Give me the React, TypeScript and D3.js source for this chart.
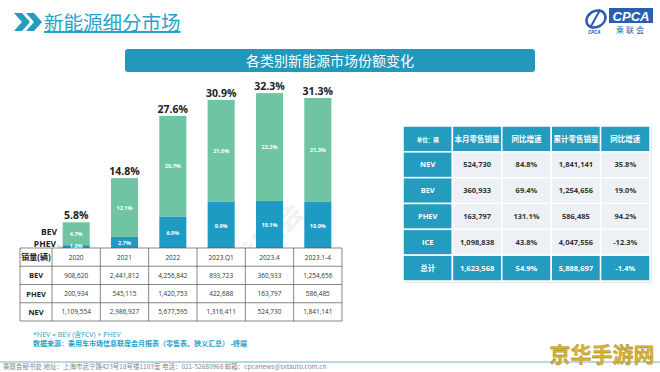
import React from 'react';
import * as d3 from 'd3';

// share of the passenger car market (%)
const years = ['2020', '2021', '2022', '2023.Q1', '2023.4', '2023.1-4'];
const phevShare = [1.0, 2.7, 6.9, 9.9, 10.1, 10.0];
const bevShare = [4.7, 12.1, 20.7, 21.0, 22.2, 21.3];
const nevShare = [5.8, 14.8, 27.6, 30.9, 32.3, 31.3];

// volumes table under the bars
const salesRows = ['BEV', 'PHEV', 'NEV'];
const bevSales = ['908,620', '2,441,812', '4,256,842', '893,723', '360,933', '1,254,656'];
const phevSales = ['200,934', '545,115', '1,420,753', '422,688', '163,797', '586,485'];
const nevSales = ['1,109,554', '2,986,927', '5,677,595', '1,316,411', '524,730', '1,841,141'];

// retail table on the right
const retailHeader = ['单位：辆', '本月零售销量', '同比增速', '累计零售销量', '同比增速'];
const retailRows = ['NEV', 'BEV', 'PHEV', 'ICE', '总计'];
const monthSales = ['524,730', '360,933', '163,797', '1,098,838', '1,623,568'];
const monthYoy = ['84.8%', '69.4%', '131.1%', '43.8%', '54.9%'];
const ytdSales = ['1,841,141', '1,254,656', '586,485', '4,047,556', '5,888,697'];
const ytdYoy = ['35.8%', '19.0%', '94.2%', '-12.3%', '-1.4%'];

const TEAL = '#239cbf';
const BEV_C = '#6fc5a3';
const PHEV_C = '#1d9bc2';
const CJK = '"Open Sans", "Noto Sans CJK SC", sans-serif';

export default function App() {
  const width = 660, height = 372;

  const x = d3.scaleBand<string>().domain(years).range([52, 342]).paddingInner(0.44).paddingOuter(0.22);
  const y = d3.scaleLinear().domain([0, 35]).range([250, 80]);

  const table = years.map((yr, i) => ({ year: yr, PHEV: phevShare[i], BEV: bevShare[i] }));
  const series = d3.stack<any>().keys(['PHEV', 'BEV'])(table);
  const colors: Record<string, string> = { PHEV: PHEV_C, BEV: BEV_C };

  // left table
  const colX = d3.scaleBand<string>().domain(years).range([52, 342]);
  const rowY = d3.scaleBand<string>().domain(['head', ...salesRows]).range([248, 321]);
  const salesData: Record<string, string[]> = { BEV: bevSales, PHEV: phevSales, NEV: nevSales };

  // right table
  const rc = d3.scaleBand<string>().domain(retailHeader.map((_, i) => String(i))).range([403, 650]);
  const rr = d3.scaleBand<string>().domain(['head', ...retailRows]).range([126, 281]);
  const retailCols = [monthSales, monthYoy, ytdSales, ytdYoy];

  return (
    <div style={{ position: 'fixed', left: 0, top: 0 }}>
      <svg width={width} height={height} style={{ display: 'block', background: '#fff' }} fontFamily={CJK}>
        {/* heading */}
        <polygon points="14,13 22,13 30,22 22,31 14,31 22,22" fill={TEAL} />
        <polygon points="26,13 34,13 42,22 34,31 26,31 34,22" fill={TEAL} />
        <text x={44} y={30} fontSize={19.5} fill="#1fa3c8" textDecoration="underline"
          fontFamily='"Noto Sans CJK SC", sans-serif'>新能源细分市场</text>

        {/* logo */}
        <g>
          <ellipse cx={596} cy={19} rx={10} ry={8} fill="none" stroke="#2a5caa" strokeWidth={2.5} transform="rotate(-30 596 19)" />
          <path d="M590,28 L600,10" stroke="#2a5caa" strokeWidth={2} />
          <text x={588} y={34} fontSize={5} fill="#2a5caa" fontStyle="italic" fontWeight="bold">CPCA</text>
          <rect x={609} y={8} width={44} height={15} fill="#2b5fae" />
          <text x={631} y={20.5} fontSize={13} fill="#fff" fontStyle="italic" fontWeight="bold"
            textAnchor="middle" fontFamily="Arial, sans-serif">CPCA</text>
          <text x={631} y={33} fontSize={8} fill="#2b5fae" textAnchor="middle"
            fontFamily='"Noto Sans CJK SC", sans-serif' letterSpacing={2}>乘联会</text>
        </g>

        {/* banner */}
        <rect x={125} y={49} width={410} height={23} rx={3} fill="#2298ba" />
        <text x={330} y={65.5} fontSize={14} fill="#fff" textAnchor="middle"
          fontFamily='"Noto Sans CJK SC", sans-serif'>各类别新能源市场份额变化</text>

        {/* watermarks */}
        <text x={250} y={270} fontSize={28} fill="#000" opacity={0.05} fontWeight="bold"
          transform="rotate(-45 250 270)" textAnchor="middle">CPCA乘联会</text>
        <text x={520} y={200} fontSize={30} fill="#000" opacity={0.05} fontWeight="bold"
          transform="rotate(-40 520 200)" textAnchor="middle">CPCA乘联会</text>

        {/* stacked bars */}
        {series.map(s => (
          <g key={s.key}>
            {s.map((d, i) => (
              <rect key={i} x={x(years[i])} y={y(d[1])} width={x.bandwidth()} height={y(d[0]) - y(d[1])}
                fill={colors[s.key]} />
            ))}
          </g>
        ))}
        {nevShare.map((v, i) => (
          <text key={i} x={(x(years[i]) as number) + x.bandwidth() / 2} y={y(v) - 3}
            fontSize={10.5} fontWeight="bold" fill="#222" textAnchor="middle">{v.toFixed(1)}%</text>
        ))}
        <text x={57} y={235} fontSize={8.5} fontWeight="bold" fill="#222" textAnchor="end">BEV</text>
        <text x={56} y={247} fontSize={8.5} fontWeight="bold" fill="#222" textAnchor="end">PHEV</text>
        <line x1={57} y1={245} x2={63} y2={248.5} stroke="#999" strokeWidth={0.7} />

        {/* volumes table */}
        <rect x={20} y={248} width={322} height={73} fill="#fff" />
        {['head', ...salesRows].map(r => (
          <g key={r}>
            <text x={36} y={(rowY(r) as number) + rowY.bandwidth() / 2 + 3} fontSize={r === 'head' ? 8 : 7.5}
              fontWeight="bold" fill="#222" textAnchor="middle">{r === 'head' ? '销量(辆)' : r}</text>
            {years.map((yr, i) => (
              <text key={yr} x={(colX(yr) as number) + colX.bandwidth() / 2}
                y={(rowY(r) as number) + rowY.bandwidth() / 2 + 2.5} fontSize={6.5}
                fill="#333" textAnchor="middle">{r === 'head' ? yr : salesData[r][i]}</text>
            ))}
          </g>
        ))}
        {['head', ...salesRows].map(r => (
          <line key={r} x1={20} x2={342} y1={(rowY(r) as number) + rowY.bandwidth()} y2={(rowY(r) as number) + rowY.bandwidth()}
            stroke="#555" strokeWidth={0.7} />
        ))}
        <line x1={20} x2={342} y1={248} y2={248} stroke="#555" strokeWidth={0.7} />
        <line x1={20} x2={20} y1={248} y2={321} stroke="#555" strokeWidth={0.7} />
        {years.map(yr => (
          <line key={yr} x1={(colX(yr) as number) + colX.bandwidth()} x2={(colX(yr) as number) + colX.bandwidth()}
            y1={248} y2={321} stroke="#555" strokeWidth={0.7} />
        ))}
        <line x1={52} x2={52} y1={248} y2={321} stroke="#555" strokeWidth={0.7} />

        {/* segment labels drawn last so the thin 2020 PHEV one stays visible */}
        {series.map(s => (
          <g key={s.key}>
            {s.map((d, i) => {
              const mid = (y(d[0]) + y(d[1])) / 2 + 2;
              return (
                <text key={i} x={(x(years[i]) as number) + x.bandwidth() / 2} y={Math.min(mid, 247.5)}
                  fontSize={5.5} fill="#fff" textAnchor="middle" fontWeight="bold">
                  {(d[1] - d[0]).toFixed(1)}%
                </text>
              );
            })}
          </g>
        ))}

        {/* notes */}
        <text x={33} y={337} fontSize={7} fill="#1fa3c8">*NEV = BEV (含FCV) + PHEV</text>
        <text x={33} y={346} fontSize={7} fill="#1fa3c8" fontWeight="bold">数据来源：乘用车市场信息联席会月报表（零售表、狭义汇总） -终端</text>

        {/* retail table */}
        <rect x={404} y={127} width={248} height={156} fill="#e4e7ec" />
        {['head', ...retailRows].map((r, ri) => (
          <g key={r}>
            {retailHeader.map((_, ci) => {
              const head = r === 'head' || r === '总计' || ci === 0;
              const cx = (rc(String(ci)) as number);
              const cy = rr(r) as number;
              let label = '';
              if (r === 'head') label = retailHeader[ci];
              else if (ci === 0) label = r;
              else label = retailCols[ci - 1][ri - 1];
              return (
                <g key={ci}>
                  <rect x={cx} y={cy} width={rc.bandwidth()} height={rr.bandwidth()}
                    fill={head ? TEAL : '#edf0f5'} stroke="#fff" strokeWidth={1.5} />
                  <text x={cx + rc.bandwidth() / 2} y={cy + rr.bandwidth() / 2 + 2.7}
                    fontSize={r === 'head' ? (ci === 0 ? 5.5 : 7.5) : 7.5} fontWeight="bold"
                    fill={head ? '#fff' : '#333'} textAnchor="middle">{label}</text>
                </g>
              );
            })}
          </g>
        ))}

        {/* footer */}
        <line x1={0} x2={660} y1={362} y2={362} stroke="#6fb3c8" strokeWidth={1} />
        <text x={3} y={369} fontSize={6.5} fill="#888"
          fontFamily='"Noto Sans CJK SC", sans-serif'>乘联会秘书处   地址：上海市武宁路423号18号楼1103室   电话：021-52680968   邮箱：cpcanews@sxtauto.com.cn</text>
        <text x={602} y={362} fontSize={21} fontWeight="bold" fill="#d8b42c" textAnchor="middle"
          stroke="#8a7020" strokeWidth={0.3} fontFamily='"Noto Sans CJK SC", sans-serif'>京华手游网</text>
      </svg>
    </div>
  );
}
